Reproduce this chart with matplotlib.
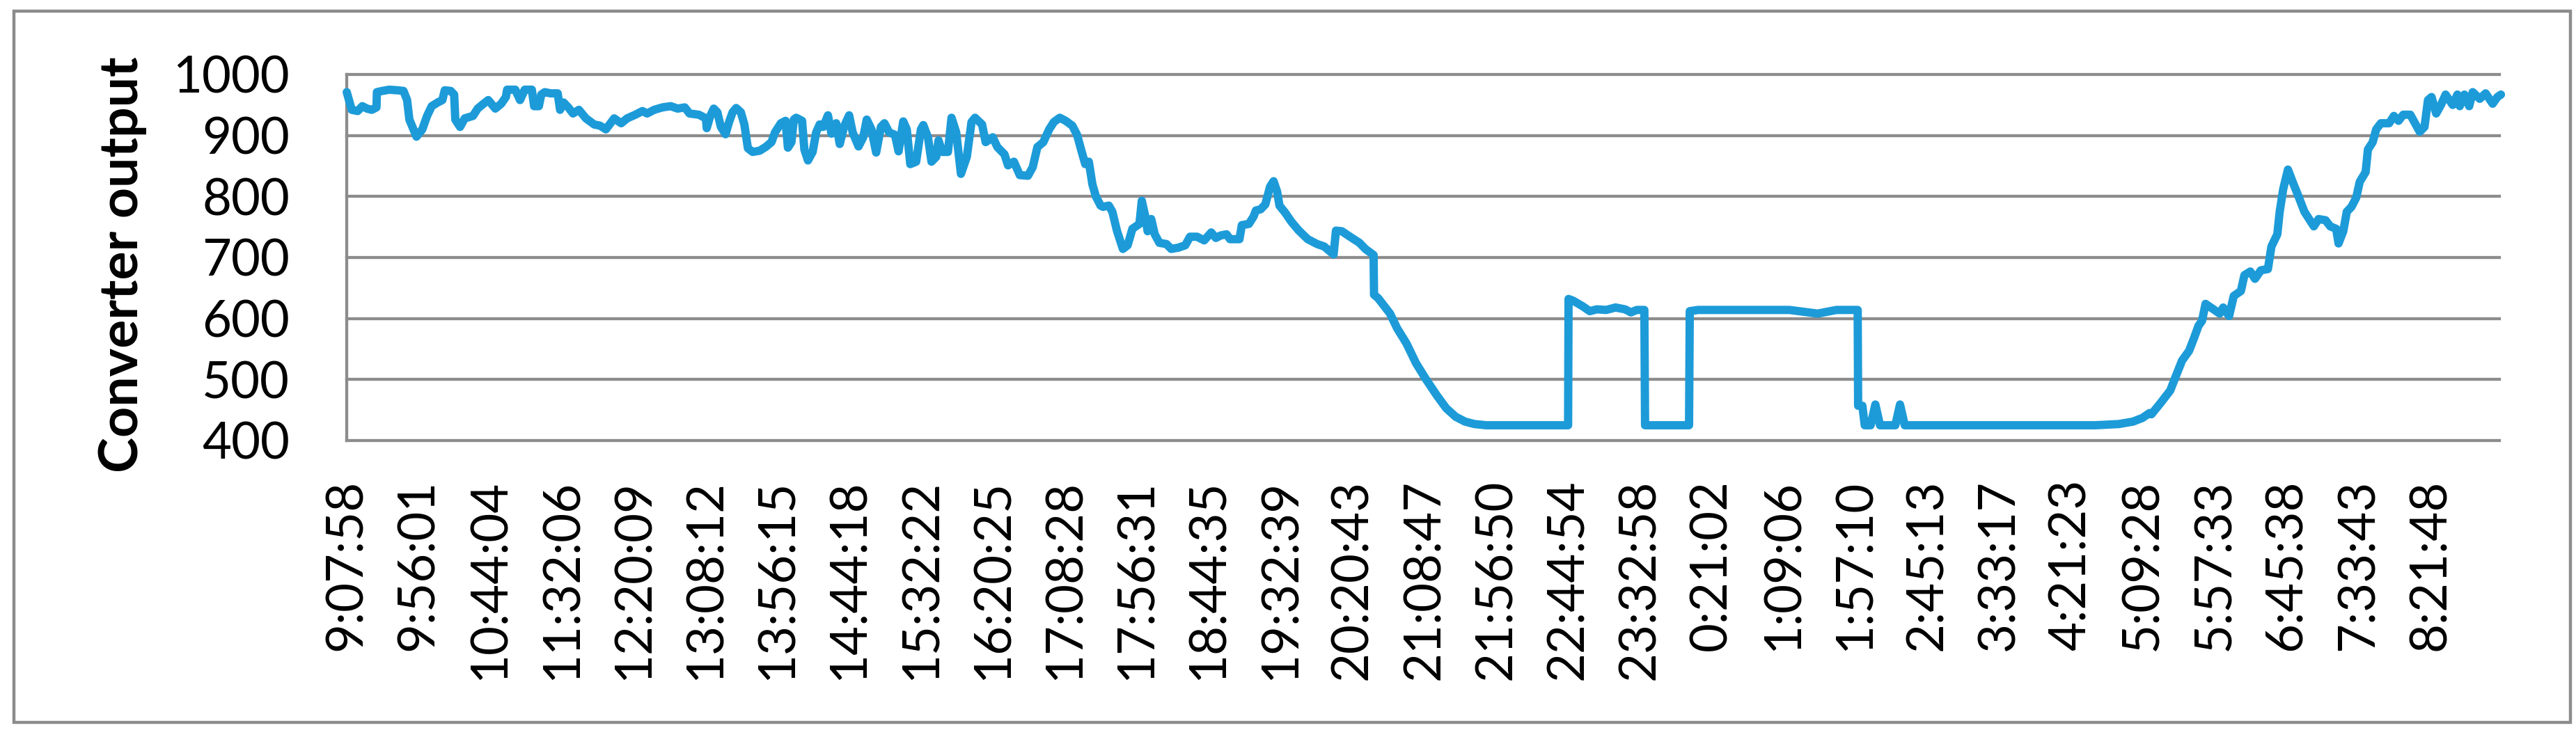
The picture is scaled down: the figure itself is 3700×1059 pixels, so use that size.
import matplotlib
matplotlib.use('Agg')
import matplotlib.pyplot as plt
from matplotlib.patches import Rectangle

plt.rcParams['font.family'] = ['Lato', 'DejaVu Sans']

# position along the time axis, in units of one label step (~48 min)
pos = [0.000, 0.070, 0.152, 0.217, 0.283, 0.348, 0.414, 0.420, 0.496, 0.594,
       0.709, 0.790, 0.840, 0.872, 0.971, 1.052, 1.118, 1.183, 1.265, 1.331,
       1.364, 1.446, 1.495, 1.511, 1.577, 1.642, 1.757, 1.822, 1.904, 1.970,
       2.068, 2.150, 2.215, 2.232, 2.346, 2.412, 2.477, 2.576, 2.608, 2.674,
       2.707, 2.756, 2.838, 2.936, 2.969, 3.018, 3.083, 3.149, 3.231, 3.329,
       3.444, 3.525, 3.607, 3.722, 3.820, 3.902, 4.017, 4.115, 4.181, 4.279,
       4.394, 4.508, 4.606, 4.705, 4.770, 4.901, 4.999,
       5.010, 5.059, 5.108, 5.158, 5.207, 5.272, 5.321, 5.370, 5.420, 5.485,
       5.534, 5.583, 5.649, 5.747, 5.829, 5.911, 5.960, 6.042, 6.107, 6.140,
       6.189, 6.222, 6.255, 6.337, 6.369, 6.419, 6.484, 6.533, 6.582, 6.631,
       6.697, 6.746, 6.812, 6.861, 6.926, 6.992, 7.041, 7.123, 7.188, 7.237,
       7.303, 7.368, 7.434, 7.483, 7.549, 7.630, 7.680, 7.745, 7.794, 7.843,
       7.925, 7.991, 8.024, 8.089, 8.138, 8.204, 8.236, 8.286, 8.367, 8.417,
       8.482, 8.548, 8.630, 8.695, 8.744, 8.842, 8.892, 8.990, 9.055, 9.154,
       9.203, 9.285, 9.367, 9.481, 9.547, 9.612, 9.694, 9.776, 9.841, 9.923,
       10.005,
       10.098, 10.164, 10.229, 10.278, 10.328, 10.377, 10.426, 10.491, 10.524,
       10.606, 10.655, 10.721, 10.802, 10.868, 10.934, 10.983, 11.032, 11.065,
       11.114, 11.146, 11.196, 11.245, 11.310, 11.408, 11.474, 11.572, 11.670,
       11.736, 11.834, 11.933, 12.031, 12.096, 12.162, 12.244, 12.293, 12.424,
       12.457, 12.555, 12.620, 12.653, 12.719, 12.784, 12.850, 12.899, 12.948,
       12.981, 13.063, 13.144, 13.243, 13.374, 13.505, 13.603, 13.734, 13.767,
       13.849, 13.963, 14.094, 14.176, 14.291, 14.297, 14.356, 14.455, 14.520,
       14.618, 14.749, 14.880, 15.011,
       15.170, 15.301, 15.432, 15.563, 15.694, 15.858, 16.998, 17.004, 17.070,
       17.201, 17.299, 17.397, 17.528, 17.659, 17.790, 17.872, 17.954, 18.059,
       18.069, 18.681, 18.691, 18.806,
       20.078, 20.471, 20.733, 21.028, 21.034, 21.093, 21.126, 21.208, 21.274,
       21.339, 21.552, 21.617, 21.683, 24.336, 24.664, 24.860, 24.991, 25.089,
       25.116, 25.247, 25.378, 25.444, 25.542, 25.640, 25.706, 25.771, 25.820,
       25.869, 25.968, 26.066, 26.115, 26.197, 26.262, 26.361, 26.410, 26.492,
       26.557, 26.639, 26.737, 26.786, 26.868, 26.901, 26.950, 27.016, 27.081,
       27.163, 27.245, 27.310, 27.376, 27.442, 27.540, 27.605, 27.687, 27.720,
       27.786, 27.835, 27.900, 27.966, 28.015, 28.097, 28.129, 28.195, 28.244,
       28.309, 28.424, 28.490, 28.555, 28.621, 28.719, 28.850, 28.916, 28.965,
       29.014, 29.079, 29.145, 29.210, 29.309, 29.374, 29.407, 29.472, 29.538,
       29.587, 29.685, 29.767, 29.865, 29.931, 29.980]

output = [971, 942, 940, 948, 944, 942, 946, 971, 973, 975,
          974, 973, 958, 926, 898, 910, 932, 948, 954, 958,
          974, 973, 967, 926, 914, 928, 932, 944, 952, 958,
          944, 952, 963, 975, 975, 958, 975, 975, 948, 948,
          967, 971, 969, 969, 942, 954, 946, 936, 942, 928,
          918, 916, 910, 928, 920, 928, 934, 940, 936, 942,
          946, 948, 944, 946, 936, 934, 928,
          912, 932, 944, 938, 914, 902, 922, 938, 945, 938,
          918, 879, 873, 875, 881, 889, 905, 920, 924, 880,
          889, 926, 929, 924, 877, 859, 873, 905, 918, 914,
          933, 903, 920, 886, 916, 933, 905, 882, 897, 926,
          910, 872, 914, 920, 905, 901, 874, 923, 910, 853,
          857, 910, 917, 897, 857, 865, 892, 873, 873, 929,
          905, 837, 865, 922, 929, 918, 889, 897, 881, 869,
          851, 857, 835, 834, 848, 881, 889, 910, 922, 929,
          924,
          916, 901, 873, 853, 857, 820, 800, 785, 783,
          785, 775, 743, 714, 720, 747, 751, 755, 793,
          767, 743, 763, 738, 724, 722, 714, 716, 720,
          734, 734, 728, 741, 732, 736, 738, 730, 730,
          753, 755, 767, 777, 779, 787, 816, 825, 808,
          785, 773, 759, 745, 730, 722, 718, 705, 744,
          743, 734, 724, 714, 704, 639, 633, 618, 608,
          584, 559, 527, 502,
          474, 453, 439, 431, 427, 425, 425, 632, 629,
          620, 612, 615, 614, 618, 615, 610, 614, 614,
          425, 425, 612, 614,
          614, 608, 614, 614, 457, 457, 425, 425, 459,
          425, 425, 459, 425, 425, 427, 431, 437, 445,
          443, 462, 482, 502, 531, 547, 567, 588, 596,
          624, 616, 608, 618, 604, 637, 645, 671, 677,
          665, 679, 681, 718, 738, 775, 812, 844, 824,
          800, 775, 763, 751, 763, 761, 751, 747, 723,
          743, 775, 783, 798, 824, 840, 877, 889, 910,
          920, 920, 932, 924, 934, 934, 906, 914, 958,
          963, 936, 950, 967, 950, 967, 948, 967, 948,
          971, 960, 969, 952, 963, 967]

tick_labels = ['9:07:58', '9:56:01', '10:44:04', '11:32:06', '12:20:09',
               '13:08:12', '13:56:15', '14:44:18', '15:32:22', '16:20:25',
               '17:08:28', '17:56:31', '18:44:35', '19:32:39', '20:20:43',
               '21:08:47', '21:56:50', '22:44:54', '23:32:58', '0:21:02',
               '1:09:06', '1:57:10', '2:45:13', '3:33:17', '4:21:23',
               '5:09:28', '5:57:33', '6:45:38', '7:33:43', '8:21:48']
y_ticks = [400, 500, 600, 700, 800, 900, 1000]

grey = '#8c8c8c'
blue = '#1d9bd8'

fig = plt.figure(figsize=(37, 10.59), dpi=100)
renderer = fig.canvas.get_renderer()


def fit_size(txt, target_px, size0, vertical=False):
    # scale a text's font size so that its drawn length matches target_px
    txt.set_fontsize(size0)
    bb = txt.get_window_extent(renderer)
    length = bb.height if vertical else bb.width
    return size0 * target_px / length


fig.patches.append(Rectangle((0.0054, 0.0198), 0.9924, 0.9651, transform=fig.transFigure,
                             fill=False, edgecolor=grey, linewidth=3.2))

ax = fig.add_axes([0.1346, 0.4023, 0.8357, 0.4967])
ax.plot(pos, output, color=blue, linewidth=8.6, solid_joinstyle='round',
        solid_capstyle='round', clip_on=False, zorder=3)

probe = fig.text(0, 0, '10:44:04')
tick_size = fit_size(probe, 289, 50)
probe.remove()

ax.set_xlim(0, 29.96)
ax.set_ylim(400, 1000)
ax.set_yticks(y_ticks)
ax.set_xticks(range(len(tick_labels)))
ax.set_xticklabels(tick_labels, rotation=90, fontsize=tick_size)
ax.tick_params(axis='y', length=0, pad=59, labelsize=tick_size)
ax.tick_params(axis='x', length=0, pad=40)
ax.yaxis.grid(True, color=grey, linewidth=3.1)
for gl in ax.get_ygridlines():
    gl.set_clip_on(False)
for s in ['top', 'right', 'bottom']:
    ax.spines[s].set_visible(False)
ax.spines['left'].set_color(grey)
ax.spines['left'].set_linewidth(3.1)

ylab = fig.text(0.0476, 0.641, 'Converter output', rotation=90, ha='center', va='center',
                fontweight='bold')
ylab.set_fontsize(fit_size(ylab, 597, 52, vertical=True))

fig.savefig('out.png', dpi=100)
